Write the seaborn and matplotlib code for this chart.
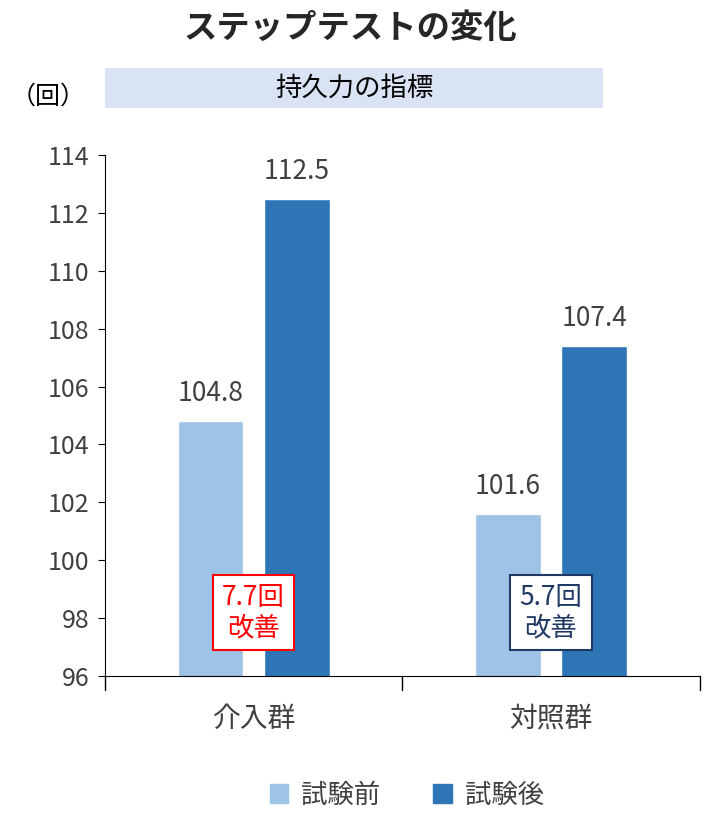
import pandas as pd
import matplotlib.pyplot as plt
import matplotlib.patches as mpatches
import seaborn as sns

groups = ["介入群", "対照群"]
phases = ["試験前", "試験後"]
before = [104.8, 101.6]
after = [112.5, 107.4]
improve = ["7.7回\n改善", "5.7回\n改善"]
improve_colors = ["#FF0000", "#1F3864"]
palette = {"試験前": "#9DC3E6", "試験後": "#2E75B6"}

df = pd.DataFrame({
    "group": groups * 2,
    "phase": [phases[0]] * 2 + [phases[1]] * 2,
    "value": before + after,
})

sns.set_style("white")
plt.rcParams['font.family'] = ['Noto Sans CJK JP', 'DejaVu Sans']

fig = plt.figure(figsize=(7.14, 8.25), dpi=100)
ax = fig.add_axes([0.147, 0.1806, 0.833, 0.6314])

sns.barplot(ax=ax, data=df, x="group", y="value", hue="phase", palette=palette,
            width=0.58, gap=0.24, bottom=0, legend=False, saturation=1)
ax.set_ylim(96, 114)
ax.set_xlim(-0.5, 1.5)
ax.set_yticks(range(96, 115, 2))
ax.tick_params(axis="y", labelsize=18, colors="#404040", length=5, direction="out", left=True, pad=6)
ax.set_xticks([0, 1])
ax.set_xticklabels(groups, fontsize=20, color="#404040")
ax.tick_params(axis="x", length=0, pad=20)
for xv in [-0.5, 0.5, 1.5]:
    ax.plot([xv, xv], [96, 95.5], color="black", lw=1, clip_on=False)
ax.set_xlabel("")
ax.set_ylabel("")
for s in ["top", "right"]:
    ax.spines[s].set_visible(False)
ax.spines["left"].set_color("black")
ax.spines["bottom"].set_color("black")
ax.tick_params(axis="y", color="black")

for cont in ax.containers:
    ax.bar_label(cont, fmt="%.1f", padding=10, fontsize=19, color="#404040")

for i, (t, c) in enumerate(zip(improve, improve_colors)):
    ax.text(i, 98.2, t, ha="center", va="center", fontsize=19, color=c, linespacing=1.15,
            bbox=dict(boxstyle="square,pad=0.35", fc="white", ec=c, lw=1.5))

fig.text(0.49, 0.965, "ステップテストの変化", ha="center", va="center", fontsize=24, fontweight="bold")
fig.patches.append(mpatches.Rectangle((105 / 714, 1 - 108 / 825), 498 / 714, 40 / 825,
                                      transform=fig.transFigure, fc="#DAE3F3", ec="none"))
fig.text(354 / 714, 1 - 88 / 825, "持久力の指標", ha="center", va="center", fontsize=19, color="black")
fig.text(48 / 714, 1 - 97 / 825, "（回）", ha="center", va="center", fontsize=18, color="black")

handles = [mpatches.Patch(color=palette[p], label=p) for p in phases]
fig.legend(handles=handles, loc="center", bbox_to_anchor=(0.57, 1 - 795 / 825), ncol=2,
           frameon=False, fontsize=19, handlelength=0.7, handleheight=0.7, columnspacing=2.0,
           handletextpad=0.5, labelcolor="#404040")

fig.savefig("out.png", dpi=100)
